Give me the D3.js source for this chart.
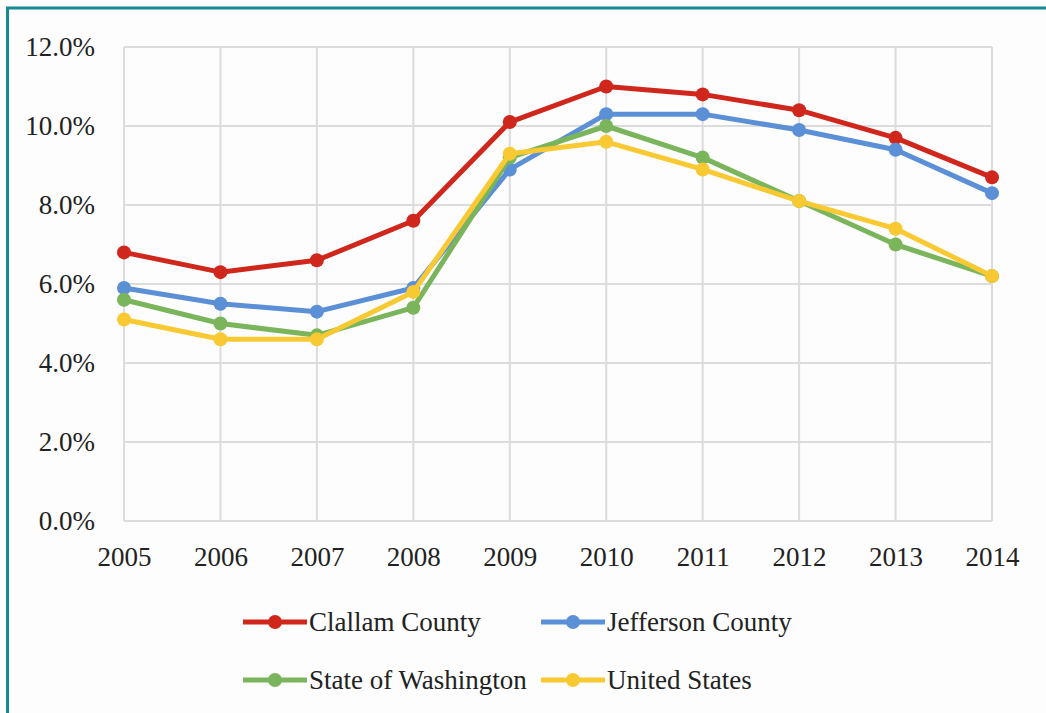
<!DOCTYPE html>
<html>
<head>
<meta charset="utf-8">
<script src="https://cdn.jsdelivr.net/npm/d3@7"></script>
<style>
  html, body { margin: 0; padding: 0; background: #fdfdfd; }
  svg { display: block; }
  svg text { font-family: "Liberation Serif", "Times New Roman", Times, serif; }
</style>
</head>
<body>
<svg id="chart" width="1046" height="713"></svg>
<script>
// Annual unemployment rate (%), 2005–2014
const years = [2005, 2006, 2007, 2008, 2009, 2010, 2011, 2012, 2013, 2014];
const clallam    = [6.8, 6.3, 6.6, 7.6, 10.1, 11.0, 10.8, 10.4, 9.7, 8.7];
const jefferson  = [5.9, 5.5, 5.3, 5.9, 8.9, 10.3, 10.3, 9.9, 9.4, 8.3];
const washington = [5.6, 5.0, 4.7, 5.4, 9.2, 10.0, 9.2, 8.1, 7.0, 6.2];
const usa        = [5.1, 4.6, 4.6, 5.8, 9.3, 9.6, 8.9, 8.1, 7.4, 6.2];
const yTicks = [0, 2, 4, 6, 8, 10, 12];

const seriesNames  = ["Clallam County", "Jefferson County", "State of Washington", "United States"];
const seriesColors = ["#d0271d", "#5b8fd6", "#7ab55c", "#f8c933"];
const seriesValues = [clallam, jefferson, washington, usa];

const svg = d3.select("#chart");
const font = '"Liberation Serif", "Times New Roman", Times, serif';

// Teal frame along the top and left edges
svg.append("line").attr("x1", 6).attr("x2", 1046).attr("y1", 8).attr("y2", 8)
  .attr("stroke", "#148a96").attr("stroke-width", 3);
svg.append("line").attr("x1", 7.5).attr("x2", 7.5).attr("y1", 7).attr("y2", 713)
  .attr("stroke", "#148a96").attr("stroke-width", 3);

const plot = { left: 124, right: 992, top: 47, bottom: 521 };

const x = d3.scalePoint().domain(years).range([plot.left, plot.right]);
const y = d3.scaleLinear().domain([0, 12]).range([plot.bottom, plot.top]);

// Gridlines
const grid = svg.append("g");
grid.selectAll("line.h").data(yTicks).join("line")
  .attr("x1", plot.left).attr("x2", plot.right)
  .attr("y1", d => y(d)).attr("y2", d => y(d))
  .attr("stroke", "#dcdcdc").attr("stroke-width", 2);
grid.selectAll("line.v").data(years).join("line")
  .attr("x1", d => x(d)).attr("x2", d => x(d))
  .attr("y1", plot.top).attr("y2", plot.bottom)
  .attr("stroke", "#dcdcdc").attr("stroke-width", 2);

// Y axis labels
const yAxis = svg.append("g")
  .attr("transform", `translate(${plot.left - 26},0)`)
  .call(d3.axisLeft(y).tickValues(yTicks).tickSize(0).tickFormat(d => d.toFixed(1) + "%"));
yAxis.attr("font-family", null);
yAxis.select(".domain").remove();
yAxis.selectAll("text").style("font-family", font).attr("font-size", 27)
  .attr("fill", "#222").attr("dy", "0.32em");

// X axis labels
const xAxis = svg.append("g")
  .attr("transform", `translate(0,${plot.bottom + 23})`)
  .call(d3.axisBottom(x).tickSize(0).tickFormat(d3.format("d")));
xAxis.attr("font-family", null);
xAxis.select(".domain").remove();
xAxis.selectAll("text").style("font-family", font).attr("font-size", 27)
  .attr("fill", "#222").attr("dy", "0.71em");

// Series lines with markers
const line = d3.line().x((d, i) => x(years[i])).y(d => y(d));
seriesValues.forEach((vals, k) => {
  const g = svg.append("g");
  g.append("path").datum(vals).attr("d", line)
    .attr("fill", "none").attr("stroke", seriesColors[k])
    .attr("stroke-width", 5).attr("stroke-linejoin", "round");
  g.selectAll("circle").data(vals).join("circle")
    .attr("cx", (d, i) => x(years[i])).attr("cy", d => y(d))
    .attr("r", 7).attr("fill", seriesColors[k]);
});

// Legend (two columns, two rows)
const legendPos = [[243, 622], [541, 622], [243, 680], [541, 680]];
seriesNames.forEach((name, k) => {
  const [lx, ly] = legendPos[k];
  const g = svg.append("g");
  g.append("line").attr("x1", lx).attr("x2", lx + 64).attr("y1", ly).attr("y2", ly)
    .attr("stroke", seriesColors[k]).attr("stroke-width", 5);
  g.append("circle").attr("cx", lx + 32).attr("cy", ly).attr("r", 7).attr("fill", seriesColors[k]);
  g.append("text").attr("x", lx + 66).attr("y", ly).attr("dy", "0.35em")
    .style("font-family", font).attr("font-size", 27).attr("fill", "#222").text(name);
});
</script>
</body>
</html>
